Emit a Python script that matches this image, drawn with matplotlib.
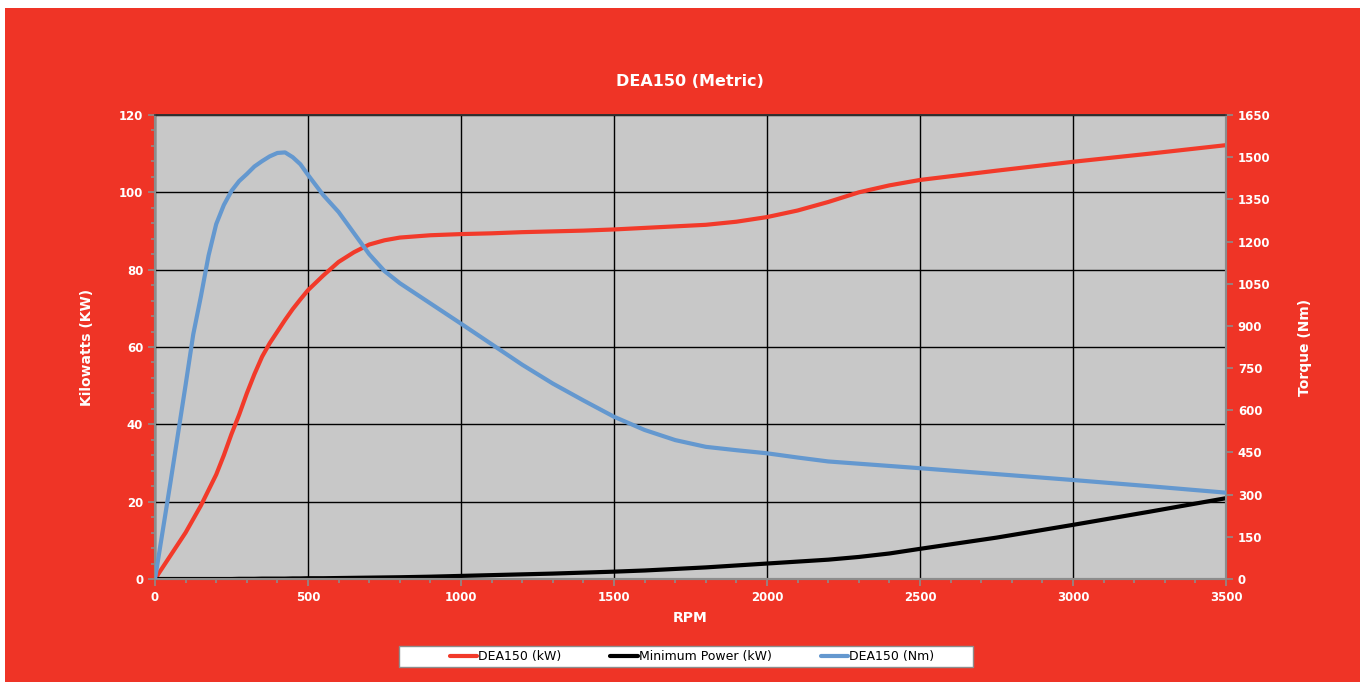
import numpy as np
import matplotlib.pyplot as plt
from matplotlib.patches import Rectangle
from matplotlib.ticker import MultipleLocator

# datos
rpm = [0, 50, 100, 125, 150, 175, 200, 225, 250, 275, 300, 325, 350, 375, 400, 425,
       450, 475, 500, 550, 600, 650, 700,
       750, 800, 900, 1000, 1100, 1200, 1300, 1400, 1500, 1600, 1700, 1800, 1900,
       2000, 2100, 2200, 2300, 2400, 2500, 2750, 3000, 3250, 3500]

potencia_kw = [0, 6, 12, 15.5, 19, 23, 27, 32, 37.5, 42.5, 48, 53, 57.5, 61, 64, 67,
               69.8, 72.3, 74.7, 78.5, 82, 84.5, 86.5,
               87.6, 88.3, 88.9, 89.2, 89.4, 89.7, 89.9, 90.1, 90.4, 90.8, 91.2, 91.6, 92.4,
               93.6, 95.3, 97.5, 100, 101.8, 103.2, 105.6, 107.9, 110.0, 112.2]

potencia_min_kw = [0, 0, 0, 0, 0, 0, 0, 0, 0, 0.05, 0.05, 0.05, 0.1, 0.1, 0.1, 0.1,
                   0.15, 0.15, 0.2, 0.2, 0.25, 0.3, 0.35,
                   0.4, 0.45, 0.6, 0.8, 1.0, 1.2, 1.4, 1.65, 1.9, 2.2, 2.6, 3.0, 3.5,
                   4.0, 4.5, 5.0, 5.7, 6.6, 7.8, 10.7, 14.0, 17.4, 20.9]

par_nm = [0, 340, 690, 870, 1005, 1150, 1262, 1330, 1380, 1415, 1440, 1467, 1486, 1503, 1515, 1517,
          1500, 1475, 1437, 1365, 1305, 1230, 1155,
          1095, 1052, 980, 908, 835, 762, 695, 635, 577, 530, 494, 470, 458,
          447, 432, 418, 410, 402, 394, 373, 352, 330, 307]

rojo_fondo = '#EF3426'
rojo_linea = '#F23A2A'
azul = '#6498CF'
gris = '#8C8C8C'

fig = plt.figure(figsize=(13.6, 6.82), dpi=100)
fig.patch.set_facecolor('white')
fig.patches.append(Rectangle((5 / 1360, 0), 1, 1 - 8 / 682, transform=fig.transFigure,
                             facecolor=rojo_fondo, edgecolor='none', zorder=-10))

ax = fig.add_axes([155 / 1360, 1 - 579 / 682, 1071 / 1360, 464 / 682])
ax.set_facecolor('#C8C8C8')

estilo = dict(lw=3, solid_joinstyle='round', solid_capstyle='round', zorder=3)
l1, = ax.plot(rpm, potencia_kw, color=rojo_linea, label='DEA150 (kW)', **estilo)
l2, = ax.plot(rpm, potencia_min_kw, color='black', label='Minimum Power (kW)', **estilo)

ax.set_xlim(0, 3500)
ax.set_ylim(0, 120)
ax.xaxis.set_major_locator(MultipleLocator(500))
ax.xaxis.set_minor_locator(MultipleLocator(100))
ax.yaxis.set_major_locator(MultipleLocator(20))
ax.yaxis.set_minor_locator(MultipleLocator(4))
ax.grid(True, which='major', color='black', lw=1.0)
ax.set_axisbelow(True)

ax2 = ax.twinx()
l3, = ax2.plot(rpm, par_nm, color=azul, label='DEA150 (Nm)', **estilo)
ax2.set_ylim(0, 1650)
ax2.yaxis.set_major_locator(MultipleLocator(150))

for a in (ax, ax2):
    for lado in ('left', 'right', 'bottom'):
        a.spines[lado].set_color(gris)
        a.spines[lado].set_linewidth(1.5)
    a.spines['top'].set_color('#303030')
    a.spines['top'].set_linewidth(1.2)
    a.tick_params(which='both', direction='out', color=gris, width=1.2)
    a.tick_params(which='major', length=5, labelsize=8.5, labelcolor='white')
    a.tick_params(which='minor', length=3)
    for t in a.get_xticklabels() + a.get_yticklabels():
        t.set_fontweight('bold')

ax.set_xlabel('RPM', color='white', fontsize=10, fontweight='bold', labelpad=5)
ax.set_ylabel('Kilowatts (KW)', color='white', fontsize=10, fontweight='bold', labelpad=18)
ax2.set_ylabel('Torque (Nm)', color='white', fontsize=10, fontweight='bold', labelpad=20,
               rotation=90)

fig.text(690 / 1360, 1 - 82 / 682, 'DEA150 (Metric)', color='white', fontsize=11.5,
         fontweight='bold', ha='center', va='center')

# caja blanca de la leyenda
fig.patches.append(Rectangle((399 / 1360, 1 - 667 / 682), 574 / 1360, 21 / 682,
                             transform=fig.transFigure, facecolor='white',
                             edgecolor=gris, lw=1.0, zorder=5))

leg = fig.legend(handles=[l1, l2, l3], loc='center', bbox_to_anchor=(692 / 1360, 1 - 656.5 / 682),
                 ncol=3, fontsize=9, frameon=False, handlelength=2.2,
                 handletextpad=0.1, columnspacing=3.9, borderpad=0.3, borderaxespad=0)
leg.set_zorder(6)

plt.savefig('out.png', dpi=100, facecolor=fig.get_facecolor())
